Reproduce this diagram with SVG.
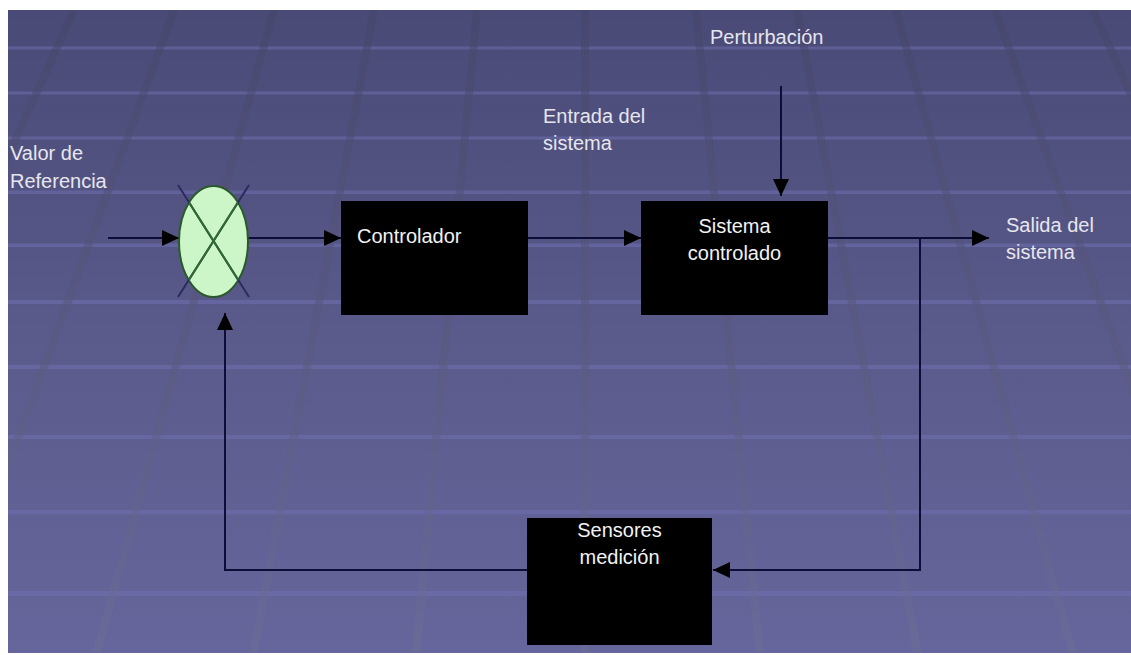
<svg xmlns="http://www.w3.org/2000/svg" width="1131" height="655" viewBox="0 0 1131 655">
  <defs>
    <linearGradient id="bg" x1="0" y1="10" x2="0" y2="655" gradientUnits="userSpaceOnUse">
      <stop offset="0" stop-color="#4a4a77"/>
      <stop offset="0.5" stop-color="#5a5a8b"/>
      <stop offset="1" stop-color="#66669c"/>
    </linearGradient>
    <linearGradient id="band" x1="0" y1="10" x2="0" y2="655" gradientUnits="userSpaceOnUse">
      <stop offset="0" stop-color="#434366"/>
      <stop offset="0.5" stop-color="#58587c"/>
      <stop offset="1" stop-color="#6e6e96"/>
    </linearGradient>
    <clipPath id="sumclip">
      <ellipse cx="213.5" cy="241.5" rx="34.5" ry="55.5"/>
    </clipPath>
    <clipPath id="bgclip">
      <rect x="8" y="10" width="1123" height="643"/>
    </clipPath>
    <marker id="arrow" markerUnits="userSpaceOnUse" markerWidth="18" markerHeight="18" refX="17" refY="8" orient="auto">
      <path d="M0,0 L17,8 L0,16 Z" fill="#000000"/>
    </marker>
    <style>
      .stripe { fill: #7070b0; opacity: 0.55; }
      .bandl { stroke: url(#band); stroke-width: 8; opacity: 0.5; fill: none; }
      .lbl { font-family: "Liberation Sans", Arial, sans-serif; font-size: 20px; fill: #e6e6ee; }
      .box { fill: #000000; }
      .boxtxt { font-family: "Liberation Sans", Arial, sans-serif; font-size: 20px; fill: #f2f2f2; }
      .conn { stroke: #0d0d38; stroke-width: 2; fill: none; }
    </style>
  </defs>

  <rect x="0" y="0" width="1131" height="655" fill="#ffffff"/>
  <g id="background" clip-path="url(#bgclip)">
    <rect x="8" y="10" width="1123" height="643" fill="url(#bg)"/>
    <rect class="stripe" x="8" y="46.5" width="1123" height="3"/>
    <rect class="stripe" x="8" y="91.5" width="1123" height="3"/>
    <rect class="stripe" x="8" y="136.5" width="1123" height="3"/>
    <rect class="stripe" x="8" y="190.5" width="1123" height="3.5"/>
    <rect class="stripe" x="8" y="243.5" width="1123" height="3.5"/>
    <rect class="stripe" x="8" y="300" width="1123" height="4"/>
    <rect class="stripe" x="8" y="365" width="1123" height="4"/>
    <rect class="stripe" x="8" y="435" width="1123" height="4"/>
    <rect class="stripe" x="8" y="510" width="1123" height="4.5"/>
    <rect class="stripe" x="8" y="591" width="1123" height="5"/>
    <line class="bandl" x1="74" y1="10" x2="-218" y2="655"/>
    <line class="bandl" x1="174" y1="10" x2="-61" y2="655"/>
    <line class="bandl" x1="274" y1="10" x2="96" y2="655"/>
    <line class="bandl" x1="374" y1="10" x2="253" y2="655"/>
    <line class="bandl" x1="477" y1="10" x2="416" y2="655"/>
    <line class="bandl" x1="585" y1="10" x2="585" y2="655"/>
    <line class="bandl" x1="696" y1="10" x2="760" y2="655"/>
    <line class="bandl" x1="797" y1="10" x2="918" y2="655"/>
    <line class="bandl" x1="896" y1="10" x2="1073" y2="655"/>
    <line class="bandl" x1="995" y1="10" x2="1228" y2="655"/>
    <line class="bandl" x1="1093" y1="10" x2="1383" y2="655"/>
  </g>

  <g id="connectors">
    <path class="conn" d="M108,238 H179" marker-end="url(#arrow)"/>
    <path class="conn" d="M248,238 H341" marker-end="url(#arrow)"/>
    <path class="conn" d="M528,238 H641" marker-end="url(#arrow)"/>
    <path class="conn" d="M781,86 V196" marker-end="url(#arrow)"/>
    <path class="conn" d="M828,238 H989" marker-end="url(#arrow)"/>
    <path class="conn" d="M920,238 V570 H713" marker-end="url(#arrow)"/>
    <path class="conn" d="M527,570 H225 V313" marker-end="url(#arrow)"/>
  </g>

  <g id="sum">
    <ellipse cx="213.5" cy="241.5" rx="34.5" ry="55.5" fill="#ccf5c8" stroke="#2a5a2a" stroke-width="2"/>
    <line x1="178" y1="185" x2="249" y2="297" stroke="#2b2b5e" stroke-width="2"/>
    <line x1="249" y1="185" x2="178" y2="297" stroke="#2b2b5e" stroke-width="2"/>
    <g clip-path="url(#sumclip)">
      <line x1="178" y1="185" x2="249" y2="297" stroke="#2e6b2e" stroke-width="2"/>
      <line x1="249" y1="185" x2="178" y2="297" stroke="#2e6b2e" stroke-width="2"/>
    </g>
  </g>

  <g id="controlador">
    <rect class="box" x="341" y="201" width="187" height="114"/>
    <text class="boxtxt" x="357" y="243">Controlador</text>
  </g>

  <g id="sistema">
    <rect class="box" x="641" y="201" width="187" height="114"/>
    <text class="boxtxt" x="734.5" y="233" text-anchor="middle">Sistema</text>
    <text class="boxtxt" x="734.5" y="260" text-anchor="middle">controlado</text>
  </g>

  <g id="sensores">
    <rect class="box" x="527" y="518" width="185" height="127"/>
    <text class="boxtxt" x="619.5" y="537" text-anchor="middle">Sensores</text>
    <text class="boxtxt" x="619.5" y="564" text-anchor="middle">medición</text>
  </g>

  <g id="valor-referencia">
    <text class="lbl" x="10" y="160">Valor de</text>
    <text class="lbl" x="10" y="188">Referencia</text>
  </g>

  <g id="entrada">
    <text class="lbl" x="543" y="123">Entrada del</text>
    <text class="lbl" x="543" y="150">sistema</text>
  </g>

  <g id="perturbacion">
    <text class="lbl" x="710" y="44">Perturbación</text>
  </g>

  <g id="salida">
    <text class="lbl" x="1006" y="232">Salida del</text>
    <text class="lbl" x="1006" y="259">sistema</text>
  </g>
</svg>
